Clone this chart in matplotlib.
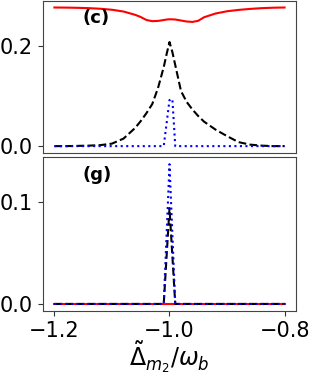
import numpy as np
import matplotlib
matplotlib.use('Agg')
import matplotlib.pyplot as plt

# detuning grid (units of omega_b)
x = [-1.2, -1.18, -1.16, -1.14, -1.12, -1.1, -1.08, -1.06, -1.05, -1.04,
     -1.03, -1.02, -1.01, -1.005, -1.0, -0.995, -0.99, -0.98, -0.97, -0.96, -0.95, -0.94,
     -0.92, -0.9, -0.88, -0.86, -0.84, -0.82, -0.8]

# panel (c)
red_c = [0.2770, 0.2768, 0.2764, 0.2757, 0.2745, 0.2725, 0.2690, 0.2625, 0.2580, 0.2520,
         0.2497, 0.2502, 0.2520, 0.2530, 0.2535, 0.2533, 0.2530, 0.2510, 0.2490, 0.2482,
         0.2505, 0.2575, 0.2650, 0.2695, 0.2722, 0.2742, 0.2757, 0.2766, 0.2770]
black_c = [0.0, 0.0, 0.0005, 0.001, 0.002, 0.005, 0.015, 0.036, 0.050, 0.066,
           0.084, 0.116, 0.158, 0.184, 0.208, 0.188, 0.162, 0.110, 0.088, 0.073,
           0.060, 0.049, 0.033, 0.020, 0.008, 0.003, 0.001, 0.0, 0.0]
x_blue_c = [-1.2, -1.01, -1.0, -0.995, -0.99, -0.8]
blue_c = [0.0, 0.0, 0.092, 0.094, 0.0, 0.0]

# panel (g)
x_g = [-1.2, -1.01, -1.0, -0.99, -0.8]
red_g = [0.0, 0.0, 0.0, 0.0, 0.0]
black_g = [0.0, 0.0, 0.094, 0.0, 0.0]
blue_g = [0.0, 0.0, 0.137, 0.0, 0.0]

fig = plt.figure(figsize=(3.11, 3.76), dpi=100)
ax1 = fig.add_axes([0.138, 0.593, 0.814, 0.405])
ax2 = fig.add_axes([0.138, 0.173, 0.814, 0.409])

ax1.plot(x, red_c, 'r-', lw=1.5)
ax1.plot(x, black_c, 'k--', lw=1.5)
ax1.plot(x_blue_c, blue_c, 'b:', lw=1.5)

ax2.plot(x_g, red_g, 'r-', lw=1.5)
ax2.plot(x_g, black_g, 'k--', lw=1.5)
ax2.plot(x_g, blue_g, 'b:', lw=1.5)

ax1.set_yticks([0.0, 0.2])
ax2.set_yticks([0.0, 0.1])
ax2.set_xticks([-1.2, -1.0, -0.8])
ax1.set_xticks([])

for ax in (ax1, ax2):
    ax.set_xlim(-1.22, -0.78)
    ax.tick_params(labelsize=15, color='#333333')
    for s in ax.spines.values():
        s.set_color('#444444')

ax1.set_ylim(-0.0138, 0.2905)
ax2.set_ylim(-0.00685, 0.1439)

ax1.text(0.155, 0.945, '(c)', transform=ax1.transAxes, fontsize=13,
         fontweight='bold', va='top')
ax2.text(0.155, 0.94, '(g)', transform=ax2.transAxes, fontsize=13,
         fontweight='bold', va='top')

ax2.set_xlabel(r'$\tilde{\Delta}_{m_2}/\omega_b$', fontsize=17, labelpad=-1)

fig.savefig('out.png', dpi=100)
